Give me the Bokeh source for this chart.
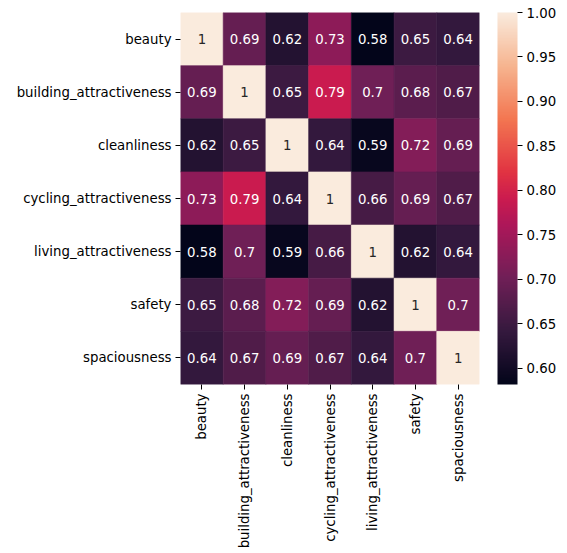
import numpy as np
from bokeh.plotting import figure
from bokeh.models import (ColumnDataSource, LinearColorMapper, ColorBar, FixedTicker,
                          NumeralTickFormatter, FactorRange)
from bokeh.transform import transform
from bokeh.embed import file_html
from bokeh.resources import INLINE
from math import pi

# ---- data ----
names = ["beauty", "building_attractiveness", "cleanliness", "cycling_attractiveness",
         "living_attractiveness", "safety", "spaciousness"]
corr = [
    [1.00, 0.69, 0.62, 0.73, 0.58, 0.65, 0.64],
    [0.69, 1.00, 0.65, 0.79, 0.70, 0.68, 0.67],
    [0.62, 0.65, 1.00, 0.64, 0.59, 0.72, 0.69],
    [0.73, 0.79, 0.64, 1.00, 0.66, 0.69, 0.67],
    [0.58, 0.70, 0.59, 0.66, 1.00, 0.62, 0.64],
    [0.65, 0.68, 0.72, 0.69, 0.62, 1.00, 0.70],
    [0.64, 0.67, 0.69, 0.67, 0.64, 0.70, 1.00],
]
vmin, vmax = 0.582, 1.0
cbar_ticks = [0.60, 0.65, 0.70, 0.75, 0.80, 0.85, 0.90, 0.95, 1.00]

# ---- rocket-like palette ----
anchors = ["#03051a", "#35193e", "#701f57", "#ad1759", "#cb1b4f", "#e13342", "#f37651", "#f6b48f", "#faebdd"]
pos = [0, 1/7, 2/7, 3/7, 0.5, 4/7, 5/7, 6/7, 1]
def h2rgb(h):
    return np.array([int(h[i:i + 2], 16) for i in (1, 3, 5)], dtype=float)
arr = np.array([h2rgb(a) for a in anchors])
palette = []
for t in np.linspace(0, 1, 256):
    rgb = [np.interp(t, pos, arr[:, k]) for k in range(3)]
    palette.append("#%02x%02x%02x" % tuple(int(round(c)) for c in rgb))

def color_of(v):
    idx = int(np.clip((v - vmin) / (vmax - vmin) * 255, 0, 255))
    return palette[idx]

xs, ys, vals, labels, tcols = [], [], [], [], []
for i, rn in enumerate(names):
    for j, cn in enumerate(names):
        v = corr[i][j]
        xs.append(cn); ys.append(rn); vals.append(v)
        labels.append(format(v, ".2g"))
        r, g, b = h2rgb(color_of(v)) / 255.0
        lum = 0.2126 * r + 0.7152 * g + 0.0722 * b
        tcols.append("#262626" if lum > 0.408 else "#ffffff")

src = ColumnDataSource(dict(x=xs, y=ys, v=vals, lab=labels, tc=tcols))
mapper = LinearColorMapper(palette=palette, low=vmin, high=vmax)

p = figure(width=563, height=553, x_range=FactorRange(*names),
           y_range=FactorRange(*list(reversed(names))),
           output_backend="svg", toolbar_location=None,
           min_border_left=180, min_border_right=84, min_border_top=12, min_border_bottom=169)
p.rect(x="x", y="y", width=1, height=1, source=src,
       fill_color=transform("v", mapper), line_color=transform("v", mapper), line_width=0.6)
p.text(x="x", y="y", text="lab", source=src, text_color="tc",
       text_align="center", text_baseline="middle", text_font_size="13.3px",
       text_font={"value": "DejaVu Sans"})

p.outline_line_color = None
p.grid.grid_line_color = None
for ax in (p.xaxis, p.yaxis):
    ax.axis_line_color = None
    ax.major_tick_line_color = "#000000"
    ax.major_tick_in = 0
    ax.major_tick_out = 5
    ax.minor_tick_line_color = None
    ax.major_label_text_font = "DejaVu Sans"
    ax.major_label_text_font_size = "13.3px"
    ax.major_label_text_color = "#000000"
    ax.major_label_standoff = 4
p.xaxis.major_label_orientation = pi / 2
p.x_range.range_padding = 0
p.y_range.range_padding = 0

cb = ColorBar(color_mapper=mapper, width=20, padding=0, margin=0, location=(18, 0),
              ticker=FixedTicker(ticks=cbar_ticks),
              formatter=NumeralTickFormatter(format="0.00"),
              major_tick_in=0, major_tick_out=5, major_tick_line_color="#000000",
              major_label_text_font="DejaVu Sans", major_label_text_font_size="13.3px",
              major_label_text_color="#000000", label_standoff=4,
              bar_line_color=None, border_line_color=None, background_fill_color=None)
p.add_layout(cb, "right")

open("out.html", "w").write(file_html(p, INLINE))
